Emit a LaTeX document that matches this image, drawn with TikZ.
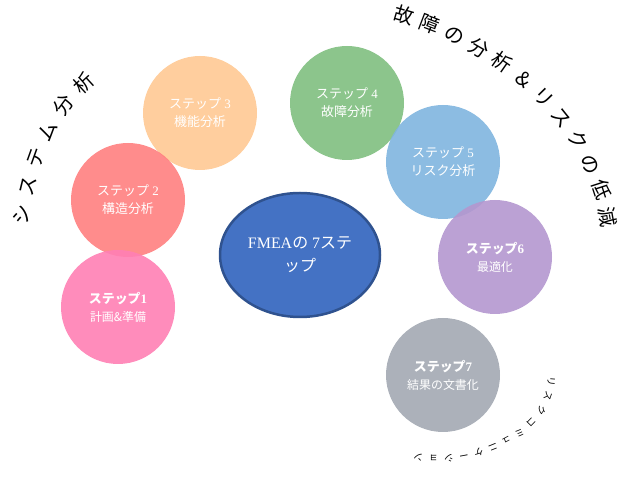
\documentclass[tikz,border=0pt]{standalone}
\usepackage{fontspec}
\setmainfont{Liberation Serif}
\newfontfamily\jp{Noto Sans CJK JP}
\usetikzlibrary{shapes.geometric, decorations.text}

\tikzset{
  stepcircle/.style={circle, minimum size=114bp, inner sep=0pt, fill opacity=0.9, text opacity=1,
    text=white, align=center, font=\fontsize{13}{18}\selectfont},
  arctext/.style={decorate, decoration={text along path, text align={fit to path}}}
}
\newcommand{\sublabel}{\fontsize{12}{16}\selectfont\jp}

\begin{document}
\begin{tikzpicture}[x=1bp, y=1bp]
    \useasboundingbox (0,0) rectangle (630,484);

    % Steps around the centre
    \node[stepcircle, fill={rgb,255:red,255;green,201;blue,147}] (S3) at (200,371) {{\jp ステップ} 3\\{\jp 機能分析}};
    \node[stepcircle, fill={rgb,255:red,255;green,127;blue,127}] (S2) at (128,284) {{\jp ステップ} 2\\{\jp 構造分析}};
    \node[stepcircle, fill={rgb,255:red,255;green,127;blue,180}] (S1) at (118,177) {\textbf{\jp ステップ}\textbf{1}\\{\sublabel 計画\&準備}};
    \node[stepcircle, fill={rgb,255:red,127;green,191;blue,127}] (S4) at (347,381) {{\jp ステップ} 4\\{\jp 故障分析}};
    \node[stepcircle, fill={rgb,255:red,127;green,181;blue,223}] (S5) at (443,322) {{\jp ステップ} 5\\{\jp リスク分析}};
    \node[stepcircle, fill={rgb,255:red,180;green,151;blue,207}] (S6) at (495,227) {\textbf{\jp ステップ}\textbf{6}\\{\sublabel 最適化}};
    \node[stepcircle, fill={rgb,255:red,163;green,169;blue,179}] (S7) at (443,109) {\textbf{\jp ステップ}\textbf{7}\\{\sublabel 結果の文書化}};

    % Centre
    \node[ellipse, minimum width=160bp, minimum height=124bp, fill={rgb,255:red,68;green,114;blue,196},
      draw={rgb,255:red,47;green,82;blue,143}, line width=2.5pt, text=white, align=center,
      font=\fontsize{16}{23}\selectfont] (FMEA) at (300,229) {FMEA{\jp の} 7{\jp ステ}\\{\jp ップ}};

    % Curved titles
    \path[arctext, decoration={text={|\jp\fontsize{20}{20}\selectfont|システム分析}}]
      (28,258) .. controls (36,320) and (58,372) .. (96,402);
    \path[arctext, decoration={text={|\jp\fontsize{20}{20}\selectfont|故障の分析＆リスクの低減}}]
      (392,464) .. controls (505,434) and (590,352) .. (602,256);
    \path[arctext, decoration={text={|\jp\fontsize{9.5}{10}\selectfont|リスクコミュニケーション}}]
      (548,108) .. controls (548,55) and (478,22) .. (414,30);
\end{tikzpicture}
\end{document}
